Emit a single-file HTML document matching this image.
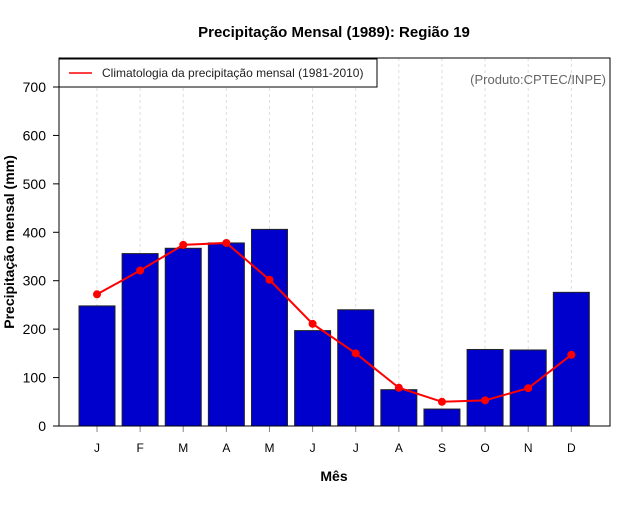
<!DOCTYPE html>
<html><head><meta charset="utf-8"><style>
body{margin:0;background:#fff;}
svg{font-family:"Liberation Sans",Arial,sans-serif;}
</style></head><body>
<svg id="chart" width="640" height="500">
<text x="334" y="37" text-anchor="middle" font-size="15" font-weight="bold">Precipitação Mensal (1989): Região 19</text>
<text x="334" y="481" text-anchor="middle" font-size="14" font-weight="bold">Mês</text>
<text transform="translate(14,242) rotate(-90)" text-anchor="middle" font-size="14" font-weight="bold">Precipitação mensal (mm)</text>
<g id="grid"></g><g id="bars"></g><g id="line"></g><g id="axes"></g>
<rect x="59" y="58" width="551" height="368" fill="none" stroke="#000" stroke-width="1"/>
<g>
<rect x="59" y="59" width="318" height="28" fill="#fff" stroke="#000"/>
<line x1="69" y1="73" x2="92" y2="73" stroke="red" stroke-width="1.5"/>
<text x="102" y="77" font-size="12" fill="#222">Climatologia da precipitação mensal (1981-2010)</text>
</g>
<text x="606" y="84" text-anchor="end" font-size="13" fill="#666">(Produto:CPTEC/INPE)</text>
</svg>
<script>
const months=["J","F","M","A","M","J","J","A","S","O","N","D"];
const observed=[248,356,367,378,406,197,240,75,35,158,157,276];
const climatology=[272,321,374,378,302,211,150,79,50,53,78,147];
const yTicks=[0,100,200,300,400,500,600,700];
const NS="http://www.w3.org/2000/svg";
const y=v=>426-v*339/700;
const x=i=>97+i*43.12;
function mk(t,a,p){const e=document.createElementNS(NS,t);for(const k in a)e.setAttribute(k,a[k]);document.getElementById(p).appendChild(e);return e;}
months.forEach((m,i)=>{
 const g=mk("line",{x1:x(i),x2:x(i),y1:58,y2:426,stroke:"#ddd","stroke-dasharray":"3,3"},"grid");
 
 
 const b=mk("rect",{x:x(i)-18,y:y(observed[i]),width:36,height:426-y(observed[i]),fill:"#0000cd",stroke:"#222","stroke-width":1},"bars");
 
 
 const t=mk("line",{x1:x(i),x2:x(i),y1:426,y2:432,stroke:"#888"},"axes");
 
 
 const l=mk("text",{x:x(i),y:452,"text-anchor":"middle","font-size":"12"},"axes");
 l.textContent=m;
 
 
});
const pl=mk("polyline",{points:climatology.map((v,i)=>x(i)+","+y(v)).join(" "),fill:"none",stroke:"red","stroke-width":2},"line");


climatology.forEach((v,i)=>{
 const c=mk("circle",{cx:x(i),cy:y(v),r:4,fill:"red"},"line");
 
 
});
yTicks.forEach(v=>{
 const t=mk("line",{x1:53,x2:59,y1:y(v),y2:y(v),stroke:"#000"},"axes");
 
 
 const l=mk("text",{x:46,y:y(v)+5,"text-anchor":"end","font-size":"14"},"axes");
 l.textContent=v;
 
 
});
</script>
</body></html>
